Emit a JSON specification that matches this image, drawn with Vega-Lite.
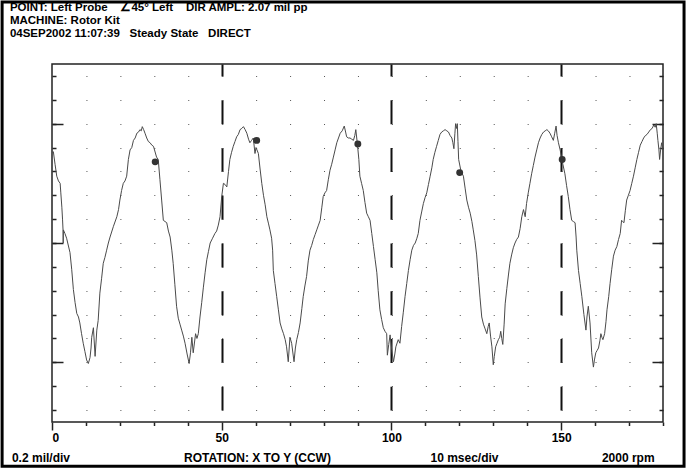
{
  "$schema": "https://vega.github.io/schema/vega-lite/v6.json",
  "width": 611,
  "height": 358,
  "autosize": "none",
  "padding": {"left": 52, "top": 64, "right": 25, "bottom": 46},
  "background": "white",
  "config": {
    "font": "Liberation Sans",
    "view": {"stroke": "#222", "strokeWidth": 1.5},
    "axis": {"domain": false, "labelFont": "Liberation Sans", "labelFontWeight": "bold", "labelColor": "black", "labelFontSize": 12, "tickColor": "#222", "tickWidth": 1.5, "title": null}
  },
  "datasets": {
    "trace": [
      {"t":0,"v":0.76},{"t":0.4,"v":0.765},{"t":0.9,"v":0.66},{"t":1.4,"v":0.56},{"t":1.9,"v":0.52},{"t":2.4,"v":0.5},{"t":2.6,"v":0.42},{"t":2.9,"v":0.3},{"t":3.1,"v":0.2},{"t":3.25,"v":0.11},{"t":3.3,"v":0.0},{"t":3.35,"v":0.11},{"t":3.8,"v":0.08},{"t":4.3,"v":0.04},{"t":5.3,"v":-0.08},{"t":5.8,"v":-0.22},{"t":6.3,"v":-0.39},{"t":6.8,"v":-0.5},{"t":7.3,"v":-0.59},{"t":7.8,"v":-0.62},{"t":8.2,"v":-0.67},{"t":8.7,"v":-0.76},{"t":9.2,"v":-0.84},{"t":9.7,"v":-0.91},{"t":10.2,"v":-0.98},{"t":10.7,"v":-1.01},{"t":11.2,"v":-0.96},{"t":11.5,"v":-0.88},{"t":11.7,"v":-0.79},{"t":12.2,"v":-0.71},{"t":12.7,"v":-0.95},{"t":13.2,"v":-0.73},{"t":13.6,"v":-0.65},{"t":14.1,"v":-0.42},{"t":14.6,"v":-0.3},{"t":15.1,"v":-0.17},{"t":15.6,"v":-0.12},{"t":16.1,"v":-0.06},{"t":16.6,"v":0.0},{"t":17.1,"v":0.05},{"t":18.1,"v":0.14},{"t":19.1,"v":0.22},{"t":19.6,"v":0.28},{"t":20.0,"v":0.36},{"t":20.5,"v":0.44},{"t":21.0,"v":0.5},{"t":21.5,"v":0.52},{"t":22.0,"v":0.56},{"t":22.5,"v":0.7},{"t":23.0,"v":0.78},{"t":23.5,"v":0.8},{"t":24.0,"v":0.86},{"t":24.5,"v":0.88},{"t":25.0,"v":0.92},{"t":25.5,"v":0.93},{"t":25.9,"v":0.95},{"t":26.3,"v":0.94},{"t":26.6,"v":0.975},{"t":27.0,"v":0.95},{"t":27.4,"v":0.92},{"t":27.9,"v":0.88},{"t":28.4,"v":0.85},{"t":28.9,"v":0.84},{"t":29.4,"v":0.82},{"t":29.9,"v":0.81},{"t":30.8,"v":0.72},{"t":31.3,"v":0.7},{"t":31.8,"v":0.53},{"t":32.3,"v":0.36},{"t":32.8,"v":0.19},{"t":33.3,"v":0.18},{"t":33.8,"v":0.17},{"t":34.3,"v":0.1},{"t":34.8,"v":0.05},{"t":35.3,"v":-0.06},{"t":35.7,"v":-0.17},{"t":36.2,"v":-0.35},{"t":36.7,"v":-0.53},{"t":37.2,"v":-0.63},{"t":37.7,"v":-0.68},{"t":38.2,"v":-0.73},{"t":38.7,"v":-0.78},{"t":39.2,"v":-0.84},{"t":39.8,"v":-0.93},{"t":40.4,"v":-1.01},{"t":40.8,"v":-0.92},{"t":41.2,"v":-0.79},{"t":41.6,"v":-0.92},{"t":42.3,"v":-0.76},{"t":42.7,"v":-0.8},{"t":43.1,"v":-0.76},{"t":43.6,"v":-0.62},{"t":44.1,"v":-0.5},{"t":44.6,"v":-0.37},{"t":45.1,"v":-0.25},{"t":45.6,"v":-0.14},{"t":46.1,"v":-0.07},{"t":46.6,"v":0.0},{"t":47.3,"v":0.04},{"t":48.0,"v":0.08},{"t":48.5,"v":0.1},{"t":49.0,"v":0.15},{"t":49.5,"v":0.22},{"t":50.0,"v":0.39},{"t":50.5,"v":0.5},{"t":51.0,"v":0.49},{"t":51.5,"v":0.47},{"t":52.0,"v":0.6},{"t":52.4,"v":0.7},{"t":52.9,"v":0.76},{"t":53.4,"v":0.81},{"t":53.9,"v":0.85},{"t":54.4,"v":0.89},{"t":54.9,"v":0.91},{"t":55.4,"v":0.95},{"t":55.9,"v":0.96},{"t":56.4,"v":0.975},{"t":56.9,"v":0.95},{"t":57.4,"v":0.92},{"t":57.9,"v":0.87},{"t":58.3,"v":0.84},{"t":58.8,"v":0.86},{"t":59.3,"v":0.88},{"t":59.8,"v":0.75},{"t":60.1,"v":0.8},{"t":60.8,"v":0.75},{"t":61.3,"v":0.62},{"t":61.8,"v":0.5},{"t":62.3,"v":0.4},{"t":62.8,"v":0.32},{"t":63.3,"v":0.22},{"t":63.8,"v":0.16},{"t":64.2,"v":0.11},{"t":64.7,"v":0.04},{"t":65.0,"v":-0.06},{"t":65.2,"v":-0.23},{"t":65.7,"v":-0.34},{"t":66.2,"v":-0.45},{"t":66.7,"v":-0.56},{"t":67.2,"v":-0.67},{"t":67.7,"v":-0.72},{"t":68.2,"v":-0.76},{"t":68.7,"v":-0.81},{"t":69.1,"v":-0.87},{"t":69.6,"v":-0.995},{"t":70.1,"v":-0.79},{"t":70.6,"v":-0.84},{"t":71.3,"v":-0.995},{"t":71.7,"v":-0.88},{"t":72.1,"v":-0.81},{"t":72.6,"v":-0.75},{"t":73.1,"v":-0.67},{"t":73.6,"v":-0.55},{"t":74.0,"v":-0.45},{"t":74.5,"v":-0.36},{"t":75.0,"v":-0.28},{"t":75.5,"v":-0.15},{"t":76.0,"v":-0.06},{"t":76.5,"v":-0.02},{"t":77.0,"v":0.03},{"t":77.5,"v":0.07},{"t":78.0,"v":0.11},{"t":78.5,"v":0.15},{"t":79.0,"v":0.19},{"t":79.5,"v":0.3},{"t":79.9,"v":0.39},{"t":80.4,"v":0.42},{"t":80.9,"v":0.44},{"t":81.4,"v":0.53},{"t":81.9,"v":0.61},{"t":82.4,"v":0.66},{"t":82.9,"v":0.72},{"t":83.4,"v":0.78},{"t":83.9,"v":0.84},{"t":84.4,"v":0.88},{"t":84.9,"v":0.92},{"t":85.5,"v":0.94},{"t":86.1,"v":0.98},{"t":86.5,"v":0.93},{"t":86.8,"v":0.89},{"t":87.3,"v":0.88},{"t":87.8,"v":0.88},{"t":88.3,"v":0.87},{"t":88.8,"v":0.86},{"t":89.2,"v":0.9},{"t":89.5,"v":0.95},{"t":90.0,"v":0.82},{"t":90.4,"v":0.7},{"t":90.7,"v":0.56},{"t":91.2,"v":0.5},{"t":91.7,"v":0.44},{"t":92.2,"v":0.34},{"t":92.7,"v":0.25},{"t":93.2,"v":0.22},{"t":93.7,"v":0.19},{"t":94.2,"v":0.08},{"t":94.7,"v":-0.03},{"t":95.2,"v":-0.14},{"t":95.7,"v":-0.25},{"t":96.1,"v":-0.4},{"t":96.6,"v":-0.56},{"t":97.1,"v":-0.64},{"t":97.6,"v":-0.71},{"t":98.1,"v":-0.74},{"t":98.6,"v":-0.76},{"t":98.8,"v":-0.94},{"t":99.2,"v":-0.85},{"t":99.6,"v":-0.77},{"t":100.1,"v":-0.9},{"t":100.6,"v":-0.995},{"t":101.0,"v":-0.93},{"t":101.3,"v":-0.87},{"t":102.0,"v":-0.81},{"t":102.5,"v":-0.84},{"t":103.0,"v":-0.7},{"t":103.5,"v":-0.58},{"t":104.0,"v":-0.45},{"t":104.5,"v":-0.34},{"t":105.0,"v":-0.23},{"t":105.5,"v":-0.14},{"t":106.0,"v":-0.06},{"t":106.5,"v":-0.02},{"t":107.0,"v":0.0},{"t":107.5,"v":0.04},{"t":107.9,"v":0.08},{"t":108.4,"v":0.19},{"t":108.9,"v":0.26},{"t":109.4,"v":0.33},{"t":109.9,"v":0.38},{"t":110.4,"v":0.42},{"t":110.9,"v":0.49},{"t":111.4,"v":0.56},{"t":111.9,"v":0.63},{"t":112.3,"v":0.7},{"t":112.8,"v":0.76},{"t":113.3,"v":0.81},{"t":113.8,"v":0.86},{"t":114.3,"v":0.91},{"t":114.8,"v":0.93},{"t":115.3,"v":0.94},{"t":115.8,"v":0.95},{"t":116.3,"v":0.94},{"t":116.8,"v":0.93},{"t":117.3,"v":0.9},{"t":117.8,"v":0.88},{"t":118.1,"v":0.84},{"t":118.4,"v":0.79},{"t":118.7,"v":0.92},{"t":118.9,"v":1.0},{"t":119.2,"v":0.96},{"t":119.4,"v":1.0},{"t":119.6,"v":0.85},{"t":119.8,"v":0.7},{"t":120.5,"v":0.6},{"t":121.2,"v":0.56},{"t":121.7,"v":0.46},{"t":122.2,"v":0.36},{"t":122.7,"v":0.3},{"t":123.2,"v":0.25},{"t":123.7,"v":0.18},{"t":124.1,"v":0.11},{"t":124.6,"v":0.02},{"t":125.1,"v":-0.1},{"t":125.6,"v":-0.28},{"t":126.1,"v":-0.46},{"t":126.6,"v":-0.62},{"t":127.1,"v":-0.68},{"t":127.6,"v":-0.72},{"t":128.1,"v":-0.76},{"t":128.5,"v":-0.7},{"t":128.8,"v":-0.67},{"t":129.2,"v":-0.78},{"t":129.6,"v":-0.87},{"t":130.0,"v":-1.02},{"t":130.3,"v":-0.95},{"t":130.7,"v":-0.87},{"t":131.1,"v":-0.84},{"t":131.5,"v":-0.81},{"t":131.9,"v":-0.79},{"t":132.2,"v":-0.74},{"t":132.5,"v":-0.8},{"t":132.8,"v":-0.85},{"t":133.2,"v":-0.68},{"t":133.5,"v":-0.51},{"t":134.0,"v":-0.38},{"t":134.5,"v":-0.26},{"t":134.9,"v":-0.17},{"t":135.4,"v":-0.1},{"t":135.9,"v":-0.04},{"t":136.4,"v":0.0},{"t":136.9,"v":0.03},{"t":137.4,"v":0.05},{"t":137.9,"v":0.12},{"t":138.4,"v":0.22},{"t":138.9,"v":0.28},{"t":139.4,"v":0.22},{"t":139.8,"v":0.33},{"t":140.3,"v":0.42},{"t":140.8,"v":0.5},{"t":141.3,"v":0.58},{"t":141.8,"v":0.65},{"t":142.3,"v":0.72},{"t":142.8,"v":0.78},{"t":143.3,"v":0.84},{"t":143.8,"v":0.88},{"t":144.3,"v":0.91},{"t":144.8,"v":0.93},{"t":145.3,"v":0.94},{"t":145.8,"v":0.95},{"t":146.2,"v":0.94},{"t":146.7,"v":0.92},{"t":147.2,"v":0.89},{"t":147.7,"v":0.86},{"t":148.1,"v":0.92},{"t":148.5,"v":0.98},{"t":148.8,"v":0.9},{"t":149.2,"v":0.84},{"t":149.7,"v":0.78},{"t":150.5,"v":0.66},{"t":151.1,"v":0.58},{"t":151.6,"v":0.48},{"t":152.1,"v":0.39},{"t":152.6,"v":0.28},{"t":153.1,"v":0.19},{"t":153.6,"v":0.18},{"t":154.1,"v":0.17},{"t":154.4,"v":0.05},{"t":154.6,"v":-0.06},{"t":155.1,"v":-0.23},{"t":155.6,"v":-0.34},{"t":156.1,"v":-0.45},{"t":156.7,"v":-0.6},{"t":157.3,"v":-0.73},{"t":157.6,"v":-0.62},{"t":158.0,"v":-0.53},{"t":158.5,"v":-0.67},{"t":159.0,"v":-0.92},{"t":159.5,"v":-1.04},{"t":159.8,"v":-0.98},{"t":160.2,"v":-0.92},{"t":160.6,"v":-0.9},{"t":161.0,"v":-0.88},{"t":161.4,"v":-0.82},{"t":161.7,"v":-0.76},{"t":162.0,"v":-0.79},{"t":162.3,"v":-0.81},{"t":162.8,"v":-0.76},{"t":163.2,"v":-0.66},{"t":163.5,"v":-0.56},{"t":164.0,"v":-0.45},{"t":164.4,"v":-0.34},{"t":164.9,"v":-0.22},{"t":165.4,"v":-0.11},{"t":165.9,"v":-0.06},{"t":166.4,"v":-0.03},{"t":166.9,"v":0.03},{"t":167.4,"v":0.08},{"t":167.8,"v":0.19},{"t":168.1,"v":0.18},{"t":168.5,"v":0.17},{"t":168.9,"v":0.27},{"t":169.3,"v":0.36},{"t":169.8,"v":0.4},{"t":170.3,"v":0.44},{"t":170.8,"v":0.5},{"t":171.3,"v":0.56},{"t":171.8,"v":0.63},{"t":172.3,"v":0.7},{"t":172.8,"v":0.76},{"t":173.3,"v":0.82},{"t":173.8,"v":0.85},{"t":174.3,"v":0.88},{"t":174.8,"v":0.9},{"t":175.3,"v":0.91},{"t":175.8,"v":0.93},{"t":176.3,"v":0.95},{"t":176.8,"v":0.96},{"t":177.3,"v":0.99},{"t":177.7,"v":0.97},{"t":178.0,"v":1.0},{"t":178.3,"v":0.92},{"t":178.5,"v":0.86},{"t":178.8,"v":0.78},{"t":179.0,"v":0.7},{"t":179.3,"v":0.78},{"t":179.6,"v":0.84},{"t":180.0,"v":0.78}
    ],
    "marks": [
      {"t": 30.4, "v": 0.68},
      {"t": 60.3, "v": 0.86},
      {"t": 90.1, "v": 0.83},
      {"t": 120.1, "v": 0.59},
      {"t": 150.3, "v": 0.7}
    ],
    "footer": [
      {"label": "0.2 mil/div", "pos": -11.8},
      {"label": "ROTATION: X TO Y (CCW)", "pos": 38.9},
      {"label": "10 msec/div", "pos": 111.5},
      {"label": "2000 rpm", "pos": 162.0}
    ],
    "header": [
      {"label": "POINT: Left Probe\u00a0\u00a0\u00a0\u00a0∠45° Left\u00a0\u00a0\u00a0\u00a0DIR AMPL: 2.07 mil pp\nMACHINE: Rotor Kit\n04SEP2002 11:07:39\u00a0\u00a0\u00a0Steady State\u00a0\u00a0\u00a0DIRECT"}
    ]
  },
  "resolve": {"axis": {"x": "independent", "y": "independent"}},
  "layer": [
    {
      "data": {"name": "trace"},
      "mark": {"type": "line", "color": "#4a4a4a", "strokeWidth": 1, "interpolate": "linear"},
      "encoding": {
        "x": {"field": "t", "type": "quantitative", "scale": {"domain": [0, 180], "nice": false, "zero": false},
          "axis": {"orient": "bottom", "values": [0, 50, 100, 150], "tickSize": 8, "labelPadding": 2, "labelAngle": 0,
            "grid": true, "gridColor": "#111", "gridWidth": 2, "gridDash": [23.87, 23.87], "gridDashOffset": 11.93,
            "gridOpacity": {"condition": {"test": "datum.value === 0", "value": 0}, "value": 1}}},
        "y": {"field": "v", "type": "quantitative", "scale": {"domain": [-1.5, 1.5], "nice": false, "zero": false},
          "axis": {"orient": "left", "values": [-1.4, -1.2, -1.0, -0.8, -0.6, -0.4, -0.2, 0, 0.2, 0.4, 0.6, 0.8, 1.0, 1.2, 1.4],
            "tickSize": -4, "labels": false, "grid": true, "gridColor": "#555", "gridWidth": 1, "gridDash": [1, 32.94]}}
      }
    },
    {
      "data": {"name": "marks"},
      "mark": {"type": "circle", "color": "#333", "opacity": 1, "size": 48},
      "encoding": {
        "x": {"field": "t", "type": "quantitative",
          "axis": {"orient": "bottom", "values": [10, 20, 30, 40, 60, 70, 80, 90, 110, 120, 130, 140, 160, 170, 180], "tickSize": 3.5, "labels": false, "grid": false}},
        "y": {"field": "v", "type": "quantitative",
          "axis": {"orient": "right", "values": [-1.4, -1.2, -1.0, -0.8, -0.6, -0.4, -0.2, 0, 0.2, 0.4, 0.6, 0.8, 1.0, 1.2, 1.4],
            "tickSize": -4, "labels": false, "grid": false}}
      }
    },
    {
      "data": {"name": "footer"},
      "mark": {"type": "text", "align": "left", "baseline": "middle", "fontSize": 12, "fontWeight": "bold", "color": "black"},
      "encoding": {
        "x": {"field": "pos", "type": "quantitative", "axis": null},
        "y": {"datum": -1.8, "type": "quantitative", "axis": {"orient": "left", "values": [-1, 0, 1], "tickSize": -11, "labels": false, "grid": false}},
        "text": {"field": "label"}
      }
    },
    {
      "data": {"name": "header"},
      "mark": {"type": "text", "align": "left", "baseline": "top", "fontSize": 11.5, "fontWeight": "bold", "color": "black", "lineBreak": "\n", "lineHeight": 13},
      "encoding": {
        "x": {"datum": -12.4, "type": "quantitative", "axis": null},
        "y": {"datum": 2.02, "type": "quantitative", "axis": null},
        "text": {"field": "label"}
      }
    },
    {
      "data": {"values": [{"k": 1}]},
      "mark": {"type": "rect", "fill": null, "fillOpacity": 0, "stroke": "black", "strokeWidth": 3},
      "encoding": {
        "x": {"datum": -14.7, "type": "quantitative", "axis": null},
        "x2": {"datum": 186.2},
        "y": {"datum": 2.02, "type": "quantitative", "axis": {"orient": "right", "values": [-1, 0, 1], "tickSize": -11, "labels": false, "grid": false}},
        "y2": {"datum": -1.87}
      }
    }
  ]
}
